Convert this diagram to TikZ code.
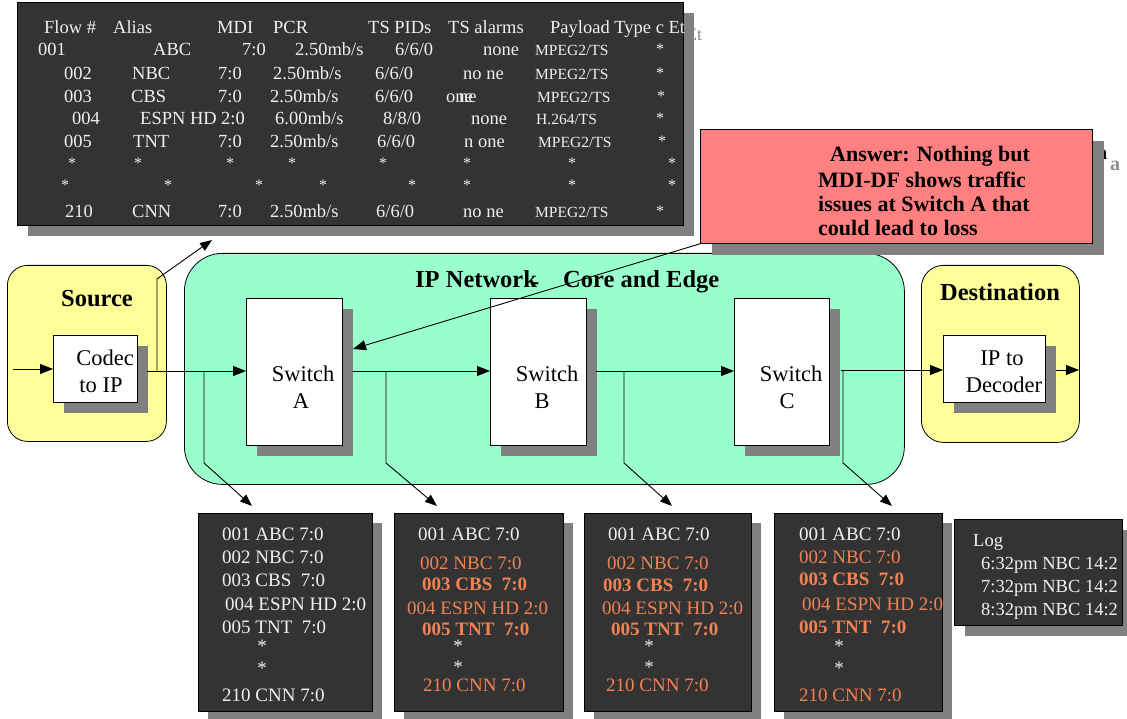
\documentclass[tikz,border=0pt]{standalone}
\usepackage{fontspec}
\setmainfont{Liberation Serif}
\usetikzlibrary{arrows.meta,shadows}
\definecolor{darkbox}{RGB}{51,51,51}
\definecolor{shadowgray}{RGB}{128,128,128}
\definecolor{ghostgray}{RGB}{140,140,140}
\definecolor{srcyellow}{RGB}{255,255,153}
\definecolor{netgreen}{RGB}{153,255,204}
\definecolor{answerpink}{RGB}{255,128,128}
\definecolor{alertorange}{RGB}{242,130,82}
\definecolor{txtwhite}{RGB}{240,240,240}
\newcount\cellno
\newcommand\tc[4][]{\global\advance\cellno by 1\relax\node[tabtxt,#1] (tc\the\cellno) at (#2,#3) {#4};}
\newcommand\bt[4][]{\global\advance\cellno by 1\relax\node[boxtxt,#1] (bt\the\cellno) at (#2,#3) {#4};}
\begin{document}
\begin{tikzpicture}[x=1pt,y=-1pt,
  every node/.style={inner sep=0pt, text height=1.0em, text depth=0pt},
  tx/.style={yshift=-2.5pt},
  shd/.style={drop shadow={shadow xshift=#1pt, shadow yshift=-#1pt, fill=shadowgray, opacity=1}},
  shd/.default=10,
  panel/.style={draw=black, line width=0.8pt, fill=darkbox, anchor=north west},
  whitebox/.style={draw=black, line width=0.8pt, fill=white, anchor=north west, shd=11},
  roundbox/.style={draw=black, line width=0.8pt, anchor=north west},
  tabtxt/.style={tx, text=txtwhite, font=\fontsize{18.5}{18.5}\selectfont, anchor=west},
  mpg/.style={font=\fontsize{15.5}{15.5}\selectfont},
  star/.style={anchor=center, font=\fontsize{16}{16}\selectfont, text height=0.75em},
  boxtxt/.style={tx, text=txtwhite, font=\fontsize{19}{19}\selectfont, anchor=west},
  bstar/.style={anchor=center, text height=0.75em},
  org/.style={text=alertorange},
  orgb/.style={text=alertorange, font=\fontsize{19}{19}\selectfont\bfseries},
  lbl/.style={tx, font=\fontsize{22.5}{22.5}\selectfont, anchor=center},
  ttl/.style={tx, font=\fontsize{24.5}{24.5}\selectfont\bfseries},
  anstxt/.style={tx, font=\fontsize{22}{22}\selectfont\bfseries, anchor=west},
  logtxt/.style={font=\fontsize{18.5}{18.5}\selectfont},
  conn/.style={line width=0.9pt},
  arr/.style={conn, -{Triangle[length=13pt,width=10pt]}},
  sarr/.style={conn, -{Triangle[length=12pt,width=9pt]}}
]
\useasboundingbox (0,0) rectangle (1127,719);

% ghost text behind table shadow
\node[tx, text=ghostgray, font=\fontsize{18}{18}\selectfont, anchor=west] (ghostEt) at (686,33) {Et};

% ---------- top table ----------
\node[panel, shd=11, minimum width=666, minimum height=223] (table) at (17,2) {};
\tc{44}{26}{Flow \#}
\tc{113}{26}{Alias}
\tc{217}{26}{MDI}
\tc{273}{26}{PCR}
\tc{368}{26}{TS PIDs}
\tc{448}{26}{TS alarms}
\tc{550}{26}{Payload Type c Et}
% 001
\tc{38}{48}{001}\tc{153}{48}{ABC}\tc{242}{48}{7:0}\tc{295}{48}{2.50mb/s}
\tc{395}{48}{6/6/0}\tc{483}{48}{none}\tc[mpg]{535}{48}{MPEG2/TS}\tc[star]{660}{48}{*}
% 002
\tc{64}{72}{002}\tc{132}{72}{NBC}\tc{218}{72}{7:0}\tc{273}{72}{2.50mb/s}
\tc{375}{72}{6/6/0}\tc{463}{72}{no ne}\tc[mpg]{535}{72}{MPEG2/TS}\tc[star]{660}{72}{*}
% 003
\tc{64}{95}{003}\tc{131}{95}{CBS}\tc{218}{95}{7:0}\tc{270}{95}{2.50mb/s}
\tc{375}{95}{6/6/0}\tc{446}{95}{one}\tc{459}{95}{ne}\tc[mpg]{537}{95}{MPEG2/TS}\tc[star]{661}{95}{*}
% 004
\tc{72}{117}{004}\tc{140}{117}{ESPN HD}\tc{221}{117}{2:0}\tc{275}{117}{6.00mb/s}
\tc{383}{117}{8/8/0}\tc{471}{117}{none}\tc[mpg]{536}{117}{H.264/TS}\tc[star]{660}{117}{*}
% 005
\tc{64}{140}{005}\tc{133}{140}{TNT}\tc{218}{140}{7:0}\tc{270}{140}{2.50mb/s}
\tc{377}{140}{6/6/0}\tc{464}{140}{n one}\tc[mpg]{538}{140}{MPEG2/TS}\tc[star]{662}{140}{*}
% stars
\tc[star]{72}{162}{*}\tc[star]{138}{162}{*}\tc[star]{230}{162}{*}\tc[star]{292}{162}{*}
\tc[star]{383}{162}{*}\tc[star]{467}{162}{*}\tc[star]{572}{162}{*}\tc[star]{672}{162}{*}
\tc[star]{65}{184}{*}\tc[star]{168}{184}{*}\tc[star]{259}{184}{*}\tc[star]{323}{184}{*}
\tc[star]{412}{184}{*}\tc[star]{467}{184}{*}\tc[star]{572}{184}{*}\tc[star]{672}{184}{*}
% 210
\tc{65}{210}{210}\tc{132}{210}{CNN}\tc{218}{210}{7:0}\tc{270}{210}{2.50mb/s}
\tc{376}{210}{6/6/0}\tc{463}{210}{no ne}\tc[mpg]{535}{210}{MPEG2/TS}\tc[star]{660}{210}{*}

% ---------- source ----------
\node[roundbox, fill=srcyellow, rounded corners=20pt, minimum width=159, minimum height=176] (source) at (7,265) {};
\node[ttl] (sourceT) at (97,299) {Source};
\node[whitebox, minimum width=84, minimum height=67] (codec) at (53,335) {};
\node[lbl] (codecT1) at (105,358) {Codec};
\node[lbl] (codecT2) at (101,385) {to IP};

% ---------- network ----------
\node[roundbox, fill=netgreen, rounded corners=38pt, minimum width=720, minimum height=231] (net) at (184,253) {};
\node[ttl, anchor=west] (netT1) at (415,280) {IP Network};
\node[ttl, anchor=west] (netT2) at (531,282) {-};
\node[ttl, anchor=west] (netT3) at (563,280) {Core and Edge};

\node[whitebox, minimum width=96, minimum height=147] (swA) at (246,298) {};
\node[whitebox, minimum width=96, minimum height=147] (swB) at (490,298) {};
\node[whitebox, minimum width=95, minimum height=147] (swC) at (734,298) {};
\node[lbl] (swAt1) at (303,374) {Switch};
\node[lbl] (swAt2) at (301,401) {A};
\node[lbl] (swBt1) at (547,374) {Switch};
\node[lbl] (swBt2) at (542,401) {B};
\node[lbl] (swCt1) at (791,374) {Switch};
\node[lbl] (swCt2) at (787,401) {C};

% ---------- destination ----------
\node[roundbox, fill=srcyellow, rounded corners=22pt, minimum width=158, minimum height=177] (dest) at (921,265) {};
\node[ttl] (destT) at (1000,293) {Destination};
\node[whitebox, minimum width=102, minimum height=67] (dec) at (943,335) {};
\node[lbl] (decT1) at (1002,358) {IP to};
\node[lbl] (decT2) at (1004,385) {Decoder};

% ---------- connectors ----------
\coordinate (inL) at (13,369);
\coordinate (codecOut) at (147,371);
\coordinate (srcTap) at (157,371);
\coordinate (srcTapTop) at (157,279);
\coordinate (tabTip) at (212,240);
\coordinate (swAout) at (353,371);
\coordinate (swBout) at (596,371);
\coordinate (swCout) at (841,370);
\coordinate (decOut) at (1056,370);
\coordinate (destEnd) at (1079,370);
\draw[arr] (inL) -- (inL -| codec.west);
\draw[arr] (codecOut) -- (codecOut -| swA.west);
\draw[arr] (swAout) -- (swAout -| swB.west);
\draw[arr] (swBout) -- (swBout -| swC.west);
\draw[arr] (swCout) -- (swCout -| dec.west);
\draw[arr] (decOut) -- (destEnd);
\draw[sarr] (srcTap) -- (srcTapTop) -- (tabTip);

\coordinate (tap1) at (204,371); \coordinate (knee1) at (204,463); \coordinate (tip1) at (252,506);
\coordinate (tap2) at (386,371); \coordinate (knee2) at (386,463); \coordinate (tip2) at (437,506);
\coordinate (tap3) at (624,371); \coordinate (knee3) at (624,463); \coordinate (tip3) at (672,506);
\coordinate (tap4) at (843,370); \coordinate (knee4) at (843,463); \coordinate (tip4) at (892,506);
\draw[sarr] (tap1) -- (knee1) -- (tip1);
\draw[sarr] (tap2) -- (knee2) -- (tip2);
\draw[sarr] (tap3) -- (knee3) -- (tip3);
\draw[sarr] (tap4) -- (knee4) -- (tip4);

% ---------- answer ----------
\node[tx, font=\fontsize{20}{20}\selectfont\bfseries, anchor=west] (ghostH) at (1096,152) {h};
\node[tx, text=ghostgray, font=\fontsize{20}{20}\selectfont\bfseries, anchor=west] (ghostA) at (1110,163) {a};
\node[panel, fill=answerpink, shd=12, minimum width=392, minimum height=114] (answer) at (700,129) {};
\node[anstxt] (ans1) at (830,154) {Answer: Nothing but};
\node[anstxt] (ans2) at (818,180) {MDI-DF shows traffic};
\node[anstxt] (ans3) at (818,204) {issues at Switch A that};
\node[anstxt] (ans4) at (818,228) {could lead to loss};
\coordinate (swAtip) at (353,349);
\draw[arr] (answer.south west) -- (swAtip);

% ---------- bottom boxes ----------
\node[panel, shd=10, minimum width=174, minimum height=198] (box1) at (198,513) {};
\node[panel, shd=10, minimum width=169, minimum height=198] (box2) at (394,513) {};
\node[panel, shd=10, minimum width=167, minimum height=198] (box3) at (584,513) {};
\node[panel, shd=10, minimum width=168, minimum height=198] (box4) at (774,513) {};
\node[panel, shd=11, minimum width=168, minimum height=106] (logbox) at (954,519) {};

% box 1
\bt{222}{533}{001 ABC 7:0}
\bt{222}{556}{002 NBC 7:0}
\bt{222}{579}{003 CBS~~7:0}
\bt{225}{603}{004 ESPN HD 2:0}
\bt{222}{626}{005 TNT~~7:0}
\bt[bstar]{262}{646}{*}
\bt[bstar]{262}{668}{*}
\bt{222}{694}{210 CNN 7:0}
% box 2
\bt{418}{533}{001 ABC 7:0}
\bt[org]{420}{562}{002 NBC 7:0}
\bt[orgb]{422}{583}{003 CBS~~7:0}
\bt[org]{407}{607}{004 ESPN HD 2:0}
\bt[orgb]{422}{628}{005 TNT~~7:0}
\bt[bstar]{458}{646}{*}
\bt[bstar]{458}{667}{*}
\bt[org]{423}{684}{210 CNN 7:0}
% box 3
\bt{608}{533}{001 ABC 7:0}
\bt[org]{607}{562}{002 NBC 7:0}
\bt[orgb]{603}{584}{003 CBS~~7:0}
\bt[org]{602}{607}{004 ESPN HD 2:0}
\bt[orgb]{611}{628}{005 TNT~~7:0}
\bt[bstar]{649}{646}{*}
\bt[bstar]{649}{667}{*}
\bt[org]{606}{684}{210 CNN 7:0}
% box 4
\bt{799}{533}{001 ABC 7:0}
\bt[org]{799}{556}{002 NBC 7:0}
\bt[orgb]{799}{578}{003 CBS~~7:0}
\bt[org]{802}{603}{004 ESPN HD 2:0}
\bt[orgb]{799}{626}{005 TNT~~7:0}
\bt[bstar]{839}{646}{*}
\bt[bstar]{839}{668}{*}
\bt[org]{799}{694}{210 CNN 7:0}
% log
\bt[logtxt]{973}{539}{Log}
\bt[logtxt]{981}{562}{6:32pm NBC 14:2}
\bt[logtxt]{981}{585}{7:32pm NBC 14:2}
\bt[logtxt]{981}{608}{8:32pm NBC 14:2}
\end{tikzpicture}
\end{document}
